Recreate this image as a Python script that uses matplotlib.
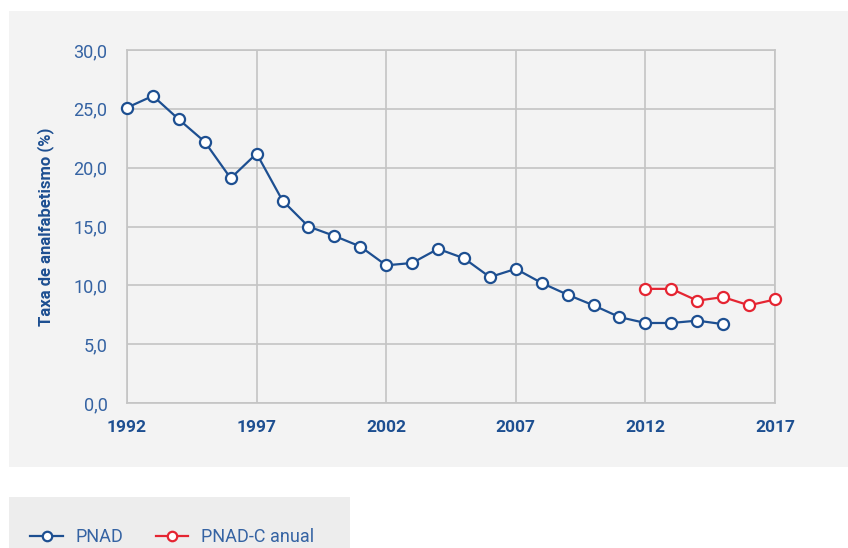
import matplotlib
matplotlib.use("Agg")
import matplotlib.pyplot as plt
from matplotlib.patches import Rectangle
from matplotlib.ticker import FuncFormatter

years_pnad = list(range(1992, 2016))
pnad = [25.1, 26.1, 24.1, 22.2, 19.1, 21.2, 17.2, 15.0, 14.2, 13.3, 11.7, 11.9,
        13.1, 12.3, 10.7, 11.4, 10.2, 9.2, 8.3, 7.3, 6.8, 6.8, 7.0, 6.7]
years_pnadc = list(range(2012, 2018))
pnadc = [9.7, 9.7, 8.7, 9.0, 8.3, 8.8]
xticks = [1992, 1997, 2002, 2007, 2012, 2017]
yticks = [0, 5, 10, 15, 20, 25, 30]

plt.rcParams['font.family'] = ['Roboto', 'DejaVu Sans']

W, H = 848, 548
fig = plt.figure(figsize=(W/100, H/100), dpi=100, facecolor='white')
fig.patches.append(Rectangle((9/W, (H-467)/H), (W-9)/W, 456/H, transform=fig.transFigure,
                             facecolor='#f3f3f3', edgecolor='none', zorder=-10))
fig.patches.append(Rectangle((9/W, 0), (350-9)/W, (H-497)/H, transform=fig.transFigure,
                             facecolor='#ededed', edgecolor='none', zorder=-10))

ax = fig.add_axes([127/W, (H-403)/H, (775-127)/W, (403-50)/H])
ax.set_facecolor('#f3f3f3')
blue = '#1d4f91'
red = '#e52532'
lightblue = '#3563a3'
ax.plot(years_pnad, pnad, color=blue, lw=1.6, marker='o', ms=8, mfc='white', mec=blue, mew=1.6,
        label='PNAD', clip_on=False, zorder=3)
ax.plot(years_pnadc, pnadc, color=red, lw=1.6, marker='o', ms=8, mfc='white', mec=red, mew=1.6,
        label='PNAD-C anual', clip_on=False, zorder=3)
ax.set_xlim(1992, 2017)
ax.set_ylim(0, 30)
ax.set_xticks(xticks)
ax.set_yticks(yticks)
ax.yaxis.set_major_formatter(FuncFormatter(lambda v, p: f"{v:.1f}".replace('.', ',')))
ax.grid(True, color='#c4c4c4', lw=1.2)
ax.set_axisbelow(True)
for s in ax.spines.values():
    s.set_color('#c4c4c4')
    s.set_linewidth(1.2)
ax.tick_params(length=0)
ax.tick_params(axis='y', pad=14, labelsize=13, labelcolor=lightblue)
ax.tick_params(axis='x', pad=12, labelsize=12.5, labelcolor=blue)
for t in ax.get_xticklabels():
    t.set_fontweight('bold')
ax.set_ylabel('Taxa de analfabetismo (%)', fontsize=12, fontweight='bold', color=blue, labelpad=14)

fig.legend(loc='center left', bbox_to_anchor=(14/W, (H-537)/H), ncol=2, frameon=False,
           fontsize=13, labelcolor=lightblue, handlelength=1.8, columnspacing=1.8,
           handletextpad=0.7, markerscale=0.85)

fig.savefig('out.png', dpi=100, facecolor='white')
